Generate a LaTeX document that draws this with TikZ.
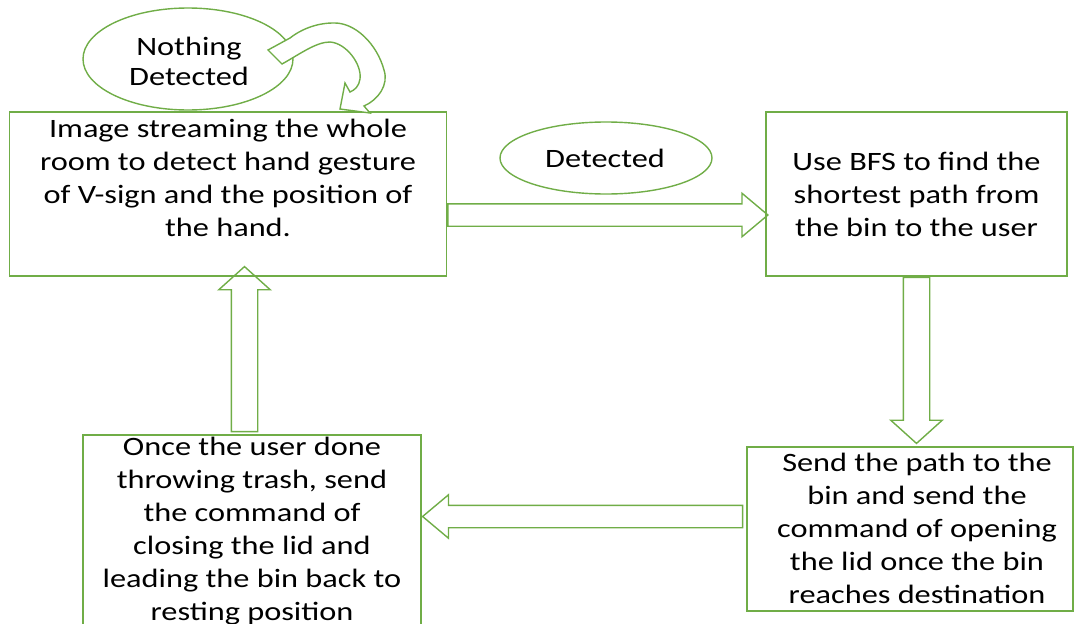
\documentclass[tikz,border=0pt]{standalone}
\usepackage{fontspec}
\setmainfont{Carlito}[FakeStretch=1.22]
\usetikzlibrary{shapes.geometric,shapes.arrows,calc}
\definecolor{grn}{HTML}{70AD47}
\begin{document}
\begin{tikzpicture}[x=1pt,y=-1pt,
  box/.style={draw=grn,line width=1.4pt,rectangle,inner sep=0pt},
  oval/.style={draw=grn,line width=1.4pt,ellipse,inner sep=0pt},
  txt/.style={align=center,inner sep=0pt,anchor=base,font=\fontsize{26.5}{33}\selectfont},
  harrow/.style={single arrow,draw=grn,line width=1.4pt,inner sep=0pt,inner ysep=10.5pt,
    single arrow head extend=10.5pt,single arrow tip angle=80},
  varrow/.style={single arrow,draw=grn,line width=1.4pt,inner sep=12.5pt,
    single arrow head extend=12.5pt,single arrow tip angle=96}]
\clip (0,0) rectangle (1074,624);
% boxes
\node[box,minimum width=437pt,minimum height=164pt] (b1) at (228,194) {};
\node[box,minimum width=301pt,minimum height=164pt] (b2) at (916.5,194) {};
\node[box,minimum width=326pt,minimum height=164pt] (b3) at (910,529) {};
\node[box,minimum width=338pt,minimum height=205pt] (b4) at (252,537.5) {};
% ellipses
\node[oval,minimum width=210pt,minimum height=102pt] (e1) at (188,59) {};
\node[oval,minimum width=212pt,minimum height=72pt] (e2) at (606,158) {};
% texts (anchor = baseline of last line)
\node[txt] (t1) at (228,236) {Image streaming the whole\\room to detect hand gesture\\of V-sign and the position of\\the hand.};
\node[txt] (t2) at (916.5,236) {Use BFS to find the\\shortest path from\\the bin to the user};
\node[txt] (t3) at (917,603) {Send the path to the\\bin and send the\\command of opening\\the lid once the bin\\reaches destination};
\node[txt] (t4) at (252,620) {Once the user done\\throwing trash, send\\the command of\\closing the lid and\\leading the bin back to\\resting position};
\node[txt,font=\fontsize{26.5}{30}\selectfont] (t5) at (189,85) {Nothing\\Detected};
\node[txt] (t6) at (605,167) {Detected};
% block arrows
\node[harrow,minimum height=320pt,anchor=tail] (a1) at ($(b1.east)+(0,21)$) {};
\node[varrow,minimum height=166pt,anchor=tail,shape border rotate=270] (a2) at (b2.south) {};
\node[harrow,minimum height=320pt,anchor=tail,shape border rotate=180] (a3) at ($(b3.west)+(-3,-12.5)$) {};
\node[varrow,minimum height=165pt,anchor=tail,shape border rotate=90] (a4) at ($(b4.north)+(-7.5,-2)$) {};
% curved self arrow
\draw[draw=grn,line width=1.4pt,fill=white,line join=miter]
  (268,50) -- (282,64) .. controls (300,54) and (316,42) .. (330,42)
  .. controls (346,43) and (362,64) .. (360,79)
  .. controls (359,86) and (355,90) .. (350,92) -- (345,83) -- (340,109) -- (370,113) -- (364,106)
  .. controls (378,100) and (389,85) .. (384,70)
  .. controls (377,44) and (355,22) .. (333,23)
  .. controls (316,23) and (300,30) .. (290,38) -- cycle;
\end{tikzpicture}
\end{document}
